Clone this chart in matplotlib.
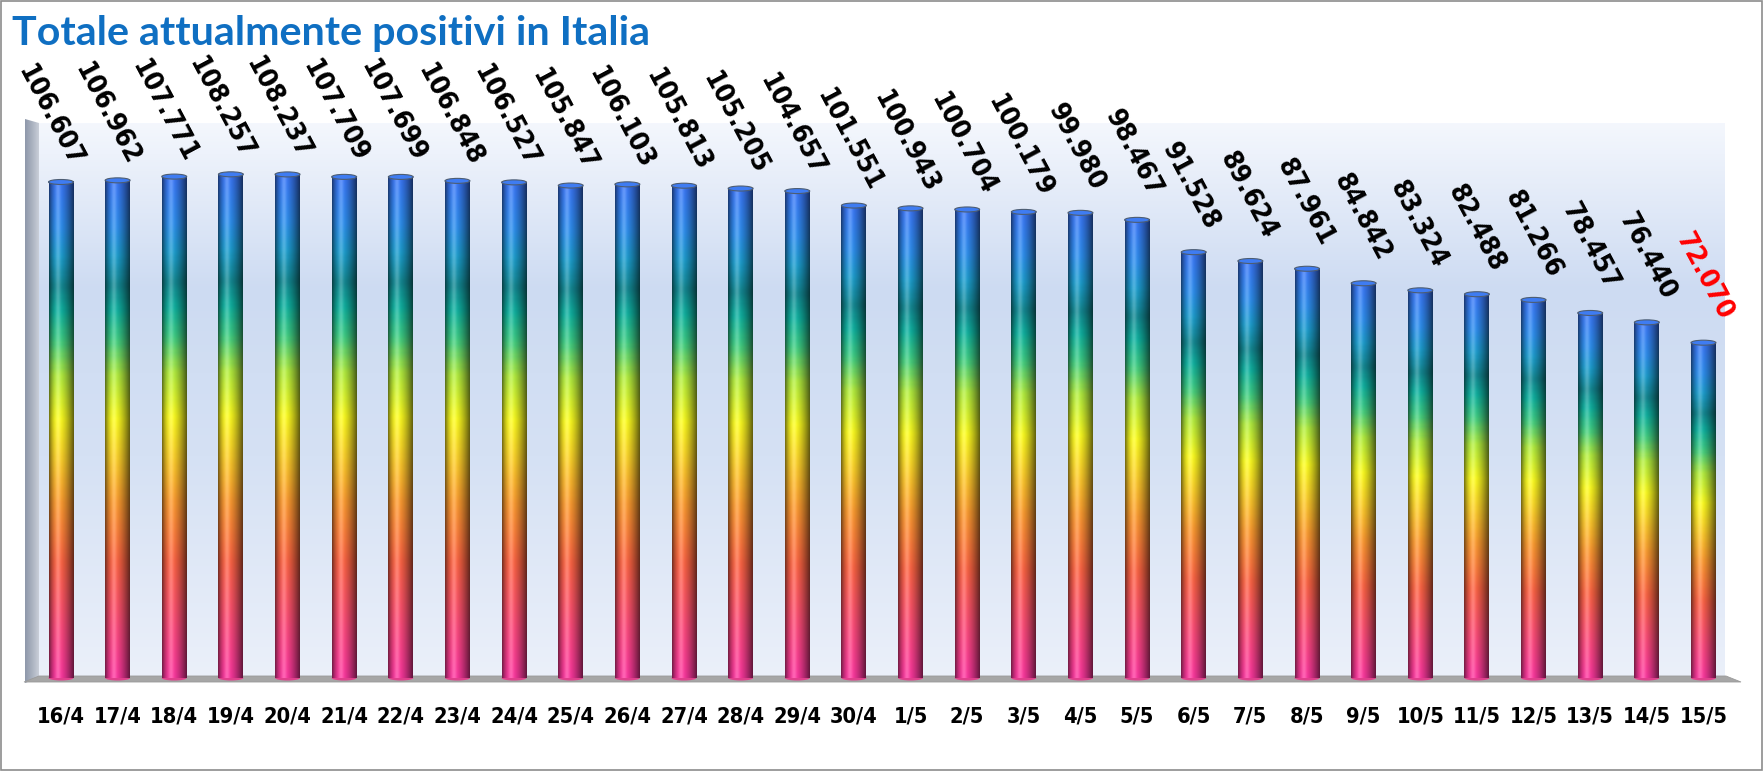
import numpy as np
import matplotlib
matplotlib.use("Agg")
import matplotlib.pyplot as plt
from matplotlib.colors import LinearSegmentedColormap
from matplotlib.patches import Polygon, Ellipse, Rectangle

# ---------------- data ----------------
dates = ["16/4", "17/4", "18/4", "19/4", "20/4", "21/4", "22/4", "23/4", "24/4", "25/4",
         "26/4", "27/4", "28/4", "29/4", "30/4", "1/5", "2/5", "3/5", "4/5", "5/5",
         "6/5", "7/5", "8/5", "9/5", "10/5", "11/5", "12/5", "13/5", "14/5", "15/5"]
positivi = [106607, 106962, 107771, 108257, 108237, 107709, 107699, 106848, 106527, 105847,
            106103, 105813, 105205, 104657, 101551, 100943, 100704, 100179, 99980, 98467,
            91528, 89624, 87961, 84842, 83324, 82488, 81266, 78457, 76440, 72070]
title = "Totale attualmente positivi in Italia"

# ---------------- figure ----------------
W, H = 1764, 773
DPI = 100
fig = plt.figure(figsize=(W / DPI, H / DPI), dpi=DPI, facecolor="white")


def fx(px):
    return px / W


def fy(py):
    return (H - py) / H


# decoration layer in pixel coordinates
deco = fig.add_axes([0, 0, 1, 1], zorder=0)
deco.set_xlim(0, W)
deco.set_ylim(H, 0)
deco.axis("off")

wall_cmap = LinearSegmentedColormap.from_list(
    "wall", [(0.0, "#f4f7fd"), (0.3, "#cddbf2"), (0.6, "#d5e1f4"), (1.0, "#ebf0fa")])
g = np.linspace(0, 1, 256)[:, None]
deco.imshow(wall_cmap(g), extent=(39, 1725, 678, 123), aspect="auto",
            interpolation="bilinear", zorder=1)

lw_poly = Polygon([(25, 119), (39, 123), (39, 678), (25, 683)], closed=True,
                  facecolor="none", edgecolor="none")
deco.add_patch(lw_poly)
side_cmap = LinearSegmentedColormap.from_list("side", ["#8e98aa", "#a9b1bf", "#c9ced8"])
hg = np.linspace(0, 1, 64)[None, :]
im_side = deco.imshow(side_cmap(np.repeat(hg, 4, axis=0)), extent=(25, 39, 683, 119),
                      aspect="auto", interpolation="bilinear", zorder=2)
im_side.set_clip_path(lw_poly)

floor = Polygon([(39, 676), (1726, 676), (1741, 682), (24, 682)], closed=True,
                facecolor="#a6a6a6", edgecolor="#9a9a9a", lw=0.6, zorder=3)
deco.add_patch(floor)

deco.add_patch(Rectangle((1, 1), 1761, 769, facecolor="none", edgecolor="#8c8c8c",
                         lw=1.2, zorder=5))

# ---------------- main axes ----------------
ax_left, ax_right, ax_top, ax_bottom = 39, 1725, 123, 678
ax = fig.add_axes([fx(ax_left), fy(ax_bottom), (ax_right - ax_left) / W,
                   (ax_bottom - ax_top) / H], zorder=2)
ax.patch.set_alpha(0)
for s in ax.spines.values():
    s.set_visible(False)

stops = [(0.00, "#ff38a0"), (0.10, "#ff4a7c"), (0.23, "#ff6444"), (0.35, "#ff9c30"),
         (0.45, "#ffd828"), (0.52, "#ffff1e"), (0.61, "#b4f040"), (0.68, "#40d084"),
         (0.74, "#0fb4a2"), (0.79, "#138a94"), (0.85, "#1c9fd0"), (0.91, "#2d8ff0"),
         (1.00, "#3b78fa")]
bar_cmap = LinearSegmentedColormap.from_list("bar", stops)
nv, nh = 300, 64
base = bar_cmap(np.linspace(0, 1, nv))[:, :3]
t = np.linspace(0, 1, nh)
shade = np.where(t < 0.38, 1 - 0.55 * ((0.38 - t) / 0.38) ** 2,
                 1 - 0.62 * ((t - 0.38) / 0.62) ** 1.5)
hi = 0.22 * np.exp(-((t - 0.36) / 0.10) ** 2)
bar_img = base[:, None, :] * shade[None, :, None]
bar_img = np.clip(bar_img + (1 - bar_img) * hi[None, :, None], 0, 1)

bw = 0.44
ymax = 119288
px_per_unit = (ax_bottom - ax_top) / ymax
cap_h = 5.0 / px_per_unit

x = np.arange(len(dates))
for i, v in enumerate(positivi):
    ax.imshow(bar_img, extent=(i - bw / 2, i + bw / 2, 0, v), origin="lower",
              aspect="auto", interpolation="bilinear", zorder=3)
    ax.add_patch(Ellipse((i, 0), bw, cap_h, facecolor="#e0408c", edgecolor="none",
                         zorder=2, clip_on=False))
    ax.add_patch(Ellipse((i, v), bw, cap_h, facecolor="#3f7cf2", edgecolor="#4d5d72",
                         lw=0.8, zorder=4))

ax.set_xlim(-0.388, 29.38)
ax.set_ylim(0, ymax)
ax.set_yticks([])
ax.set_xticks(x)
ax.tick_params(axis="x", length=0)

font_kw = dict(family="DejaVu Sans", fontweight="bold", fontstretch="condensed")

# measure fonts to match reference text sizes
probe = fig.text(0, 0, "106.607", fontsize=20, **font_kw)
probe2 = fig.text(0, 0, "16/4", fontsize=20, **font_kw)
fig.canvas.draw()
lab_size = 20 * 112 / probe.get_window_extent().width
tick_size = 20 * 48 / probe2.get_window_extent().width
probe.remove()
probe2.remove()

# value labels
n = len(positivi)
for i, v in enumerate(positivi):
    lab = f"{v:,}".replace(",", ".")
    dx_px = -11 + 11 * i / (n - 1)
    ax.annotate(lab, xy=(i, v), xytext=(dx_px * 0.72, 66 * 0.72),
                textcoords="offset points", ha="center", va="center",
                rotation=-62, rotation_mode="anchor", fontsize=lab_size,
                color="#ff0000" if i == n - 1 else "black", zorder=6,
                annotation_clip=False, **font_kw)

ax.set_xticklabels(dates, fontsize=tick_size, color="black", va="center", **font_kw)
ax.tick_params(axis="x", pad=(717 - 678) * 0.72)

ttl = fig.text(fx(12), fy(45), title, ha="left", va="baseline", fontsize=30,
               fontweight="bold", family="Lato", color="#0f6fc2")
fig.canvas.draw()
wpx = ttl.get_window_extent().width
ttl.set_fontsize(30 * 637 / wpx)

fig.savefig("out.png", dpi=DPI, facecolor="white")
